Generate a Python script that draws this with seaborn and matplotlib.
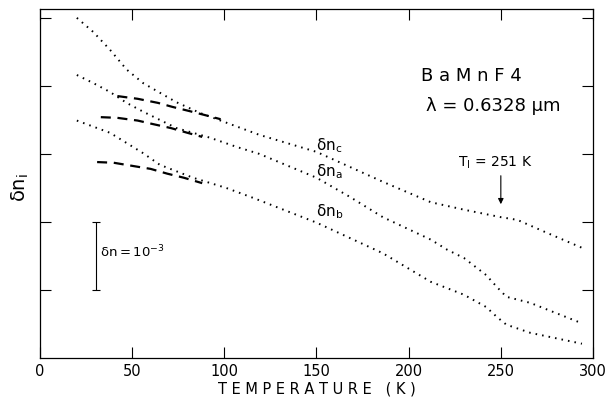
import matplotlib
matplotlib.use("Agg")
import matplotlib.pyplot as plt
import seaborn as sns
import pandas as pd

# temperature (K) and relative index change (units of 1e-3, arbitrary offset)
t_c = [20, 29, 38, 47, 56, 65, 74, 87, 101, 119, 150, 186, 212, 230, 250, 259, 275, 294]
dn_c = [5.00, 4.79, 4.53, 4.24, 4.04, 3.90, 3.76, 3.60, 3.46, 3.28, 3.03, 2.59, 2.29, 2.18, 2.07, 2.03, 1.84, 1.62]

t_a = [20, 29, 38, 47, 56, 65, 74, 92, 107, 119, 150, 168, 186, 212, 221, 230, 242, 248, 253, 266, 294]
dn_a = [4.16, 4.04, 3.91, 3.75, 3.62, 3.50, 3.38, 3.24, 3.10, 3.00, 2.65, 2.37, 2.07, 1.74, 1.59, 1.47, 1.22, 1.04, 0.90, 0.81, 0.51]

t_b = [20, 29, 38, 47, 56, 65, 83, 101, 116, 150, 186, 212, 230, 242, 248, 253, 266, 294]
dn_b = [3.49, 3.40, 3.31, 3.16, 3.01, 2.84, 2.65, 2.50, 2.35, 1.99, 1.54, 1.12, 0.93, 0.75, 0.60, 0.49, 0.37, 0.21]

# dashed fits at low temperature
fit_t_c = [42, 53, 64, 72, 81, 91, 98]
fit_c = [3.85, 3.81, 3.75, 3.69, 3.63, 3.56, 3.51]
fit_t_a = [33, 42, 53, 61, 71, 80, 88]
fit_a = [3.54, 3.53, 3.49, 3.44, 3.38, 3.31, 3.25]
fit_t_b = [31, 40, 51, 60, 69, 78, 88]
fit_b = [2.88, 2.87, 2.82, 2.78, 2.71, 2.65, 2.57]

x_ticks = [0, 50, 100, 150, 200, 250, 300]
y_ticks = [1, 2, 3, 4, 5]

sns.set_theme(style="ticks")
plt.rcParams['font.family'] = ['DejaVu Sans']
plt.rcParams.update({"text.color": "black", "axes.labelcolor": "black",
                     "xtick.color": "black", "ytick.color": "black"})

fig = plt.figure(figsize=(6.14, 3.98), dpi=100)
ax = fig.add_axes([0.0651, 0.1005, 0.9007, 0.8769])

dot = (0, (0.8, 2.6))
for t, v in [(t_c, dn_c), (t_a, dn_a), (t_b, dn_b)]:
    df = pd.DataFrame({"T": t, "dn": v})
    sns.lineplot(data=df, x="T", y="dn", ax=ax, color="black", lw=1.4,
                 linestyle=dot, sort=False)
for t, v in [(fit_t_c, fit_c), (fit_t_a, fit_a), (fit_t_b, fit_b)]:
    df = pd.DataFrame({"T": t, "dn": v})
    sns.lineplot(data=df, x="T", y="dn", ax=ax, color="black", lw=1.6,
                 linestyle=(0, (4.5, 3)), sort=False)

ax.set_xlim(0, 300)
ax.set_ylim(0, 5.13)
ax.set_xticks(x_ticks)
ax.set_xticklabels([str(v) for v in x_ticks])
ax.set_yticks(y_ticks)
ax.set_yticklabels([])
ax.tick_params(direction="in", length=8, width=0.8, top=True, right=True, pad=4)
ax.tick_params(axis="x", labelsize=10.5)
for s in ax.spines.values():
    s.set_linewidth(0.9)
    s.set_color("black")

ax.set_xlabel("T E M P E R A T U R E   ( K )", fontsize=10.5, labelpad=2)
ax.set_ylabel("")
fig.text(20 / 614, 0.53, r"$\mathregular{\delta n_i}$", fontsize=14,
         rotation=90, ha="center", va="center")

ax.text(234, 4.15, "B a M n F 4", fontsize=13, ha="center", va="center")
ax.text(246, 3.71, "λ = 0.6328 μm", fontsize=13, ha="center", va="center")

ax.text(150, 3.12, r"$\mathregular{\delta n_c}$", fontsize=11, ha="left", va="center")
ax.text(150, 2.74, r"$\mathregular{\delta n_a}$", fontsize=11, ha="left", va="center")
ax.text(150, 2.15, r"$\mathregular{\delta n_b}$", fontsize=11, ha="left", va="center")

ax.text(247, 2.87, r"$\mathregular{T_I}$ = 251 K", fontsize=10, ha="center", va="center")
ax.annotate("", xy=(250, 2.22), xytext=(250, 2.72),
            arrowprops=dict(arrowstyle="-|>", lw=0.8, color="black", mutation_scale=8))

ax.errorbar([30.4], [1.5], yerr=[0.5], color="black", lw=0.8, capsize=3, capthick=0.8)
ax.text(32.6, 1.56, r"$\mathregular{\delta n = 10^{-3}}$", fontsize=9.5, ha="left", va="center")

fig.savefig("out.png", dpi=100)
